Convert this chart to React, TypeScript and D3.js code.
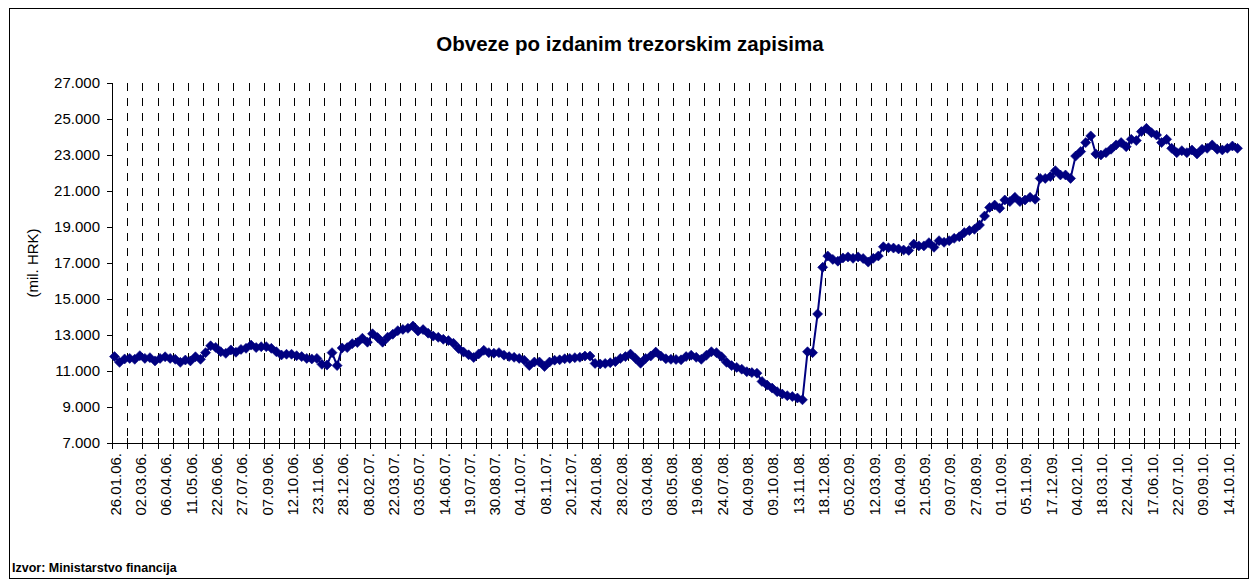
import React from "react";
import * as d3 from "d3";

const title = "Obveze po izdanim trezorskim zapisima";
const yAxisTitle = "(mil. HRK)";
const sourceNote = "Izvor: Ministarstvo financija";

const tickLabels = [
  "26.01.06.", "02.03.06.", "06.04.06.", "11.05.06.", "22.06.06.", "27.07.06.", "07.09.06.", "12.10.06.", "23.11.06.", "28.12.06.",
  "08.02.07.", "22.03.07.", "03.05.07.", "14.06.07.", "19.07.07.", "30.08.07.", "04.10.07.", "08.11.07.", "20.12.07.", "24.01.08.",
  "28.02.08.", "03.04.08.", "08.05.08.", "19.06.08.", "24.07.08.", "04.09.08.", "09.10.08.", "13.11.08.", "18.12.08.", "05.02.09.",
  "12.03.09.", "16.04.09.", "21.05.09.", "09.07.09.", "27.08.09.", "01.10.09.", "05.11.09.", "17.12.09.", "04.02.10.", "18.03.10.",
  "22.04.10.", "17.06.10.", "22.07.10.", "09.09.10.", "14.10.10.",
];

const values = [
  11800, 11480, 11670, 11700, 11650, 11850, 11700, 11740, 11560, 11700,
  11790, 11700, 11650, 11480, 11610, 11560, 11790, 11650, 12020, 12400,
  12310, 12070, 11980, 12170, 12040, 12200, 12260, 12440, 12300, 12350,
  12350, 12260, 12070, 11890, 11930, 11930, 11850, 11800, 11700, 11670,
  11700, 11370, 11330, 12020, 11300, 12280, 12300, 12520, 12580, 12820,
  12600, 13070, 12860, 12600, 12880, 13040, 13240, 13310, 13370, 13500,
  13220, 13300, 13100, 12940, 12870, 12760, 12690, 12540, 12250, 12050,
  11900, 11750, 11950, 12150, 12020, 11990, 12020, 11880, 11800, 11760,
  11700, 11600, 11300, 11500, 11500, 11250, 11500, 11600, 11620, 11680,
  11700, 11740, 11760, 11830, 11830, 11420, 11390, 11420, 11460, 11520,
  11700, 11800, 11940, 11700, 11430, 11700, 11830, 12050, 11830, 11680,
  11650, 11640, 11620, 11800, 11880, 11760, 11650, 11870, 12070, 12020,
  11790, 11480, 11300, 11200, 11100, 10960, 10910, 10880, 10420, 10220,
  10050, 9850, 9720, 9630, 9580, 9500, 9400, 12070, 12020, 14170,
  16760, 17390, 17200, 17100, 17280, 17340, 17260, 17340, 17250, 17050,
  17260, 17390, 17900, 17850, 17830, 17780, 17720, 17700, 18050, 17950,
  17950, 18130, 17870, 18240, 18150, 18240, 18370, 18460, 18690, 18800,
  18870, 19110, 19610, 20090, 20220, 20040, 20500, 20410, 20650, 20410,
  20500, 20650, 20540, 21700, 21700, 21800, 22130, 21890, 21890, 21700,
  22940, 23190, 23690, 24060, 23060, 23000, 23130, 23320, 23560, 23690,
  23460, 23870, 23800, 24300, 24480, 24240, 24110, 23690, 23870, 23370,
  23130, 23240, 23130, 23280, 23060, 23320, 23370, 23560, 23320, 23280,
  23370, 23500, 23370,
];

const yTicks = [7000, 9000, 11000, 13000, 15000, 17000, 19000, 21000, 23000, 25000, 27000];

const categories = values.map((_, i) => i);
const labelEvery = 5;
const tickEvery = 3;

const W = 1257;
const H = 585;
const plot = { left: 112, right: 1240, top: 83, bottom: 443 };
const NAVY = "#000080";
const FONT = "'Liberation Sans', Arial, sans-serif";

export default function App() {
  const x = d3.scaleBand<number>().domain(categories).range([plot.left, plot.right]).padding(0);
  const y = d3.scaleLinear().domain([7000, 27000]).range([plot.bottom, plot.top]);
  const bw = x.bandwidth();
  const cx = (i: number) => (x(i) as number) + bw / 2;

  const locale = d3.formatLocale({ decimal: ",", thousands: ".", grouping: [3], currency: ["", ""] });
  const fmt = locale.format(",.0f");

  const line = d3
    .line<number>()
    .x((_, i) => cx(i))
    .y((d) => y(d));

  const boundaries = d3.range(0, categories.length + 1, tickEvery).map((i) =>
    i < categories.length ? (x(i) as number) : plot.right
  );

  const r = 5;
  const diamond = (px: number, py: number) =>
    `M${px},${py - r}L${px + r},${py}L${px},${py + r}L${px - r},${py}Z`;

  return (
    <svg
      width={W}
      height={H}
      style={{ position: "absolute", left: 0, top: 0, background: "#fff" }}
      fontFamily={FONT}
    >
      <rect x={9.5} y={8.5} width={1239} height={570} fill="#fff" stroke="#000" strokeWidth={1} />
      <text x={630} y={51} textAnchor="middle" fontSize={20.5} fontWeight="bold" fill="#000">
        {title}
      </text>

      {/* vertical dashed gridlines */}
      {boundaries.slice(1).map((bx, k) => (
        <line
          key={"g" + k}
          x1={Math.round(bx) + 0.5}
          x2={Math.round(bx) + 0.5}
          y1={plot.top}
          y2={plot.bottom}
          stroke="#000"
          strokeWidth={1}
          strokeDasharray="8,7"
        />
      ))}

      {/* y axis */}
      <line x1={plot.left + 0.5} x2={plot.left + 0.5} y1={plot.top} y2={plot.bottom} stroke="#000" />
      {yTicks.map((t) => (
        <g key={"y" + t}>
          <line x1={plot.left - 5} x2={plot.left} y1={Math.round(y(t)) + 0.5} y2={Math.round(y(t)) + 0.5} stroke="#000" />
          <text x={plot.left - 12} y={y(t)} dy="0.35em" textAnchor="end" fontSize={15} fill="#000">
            {fmt(t)}
          </text>
        </g>
      ))}
      <text
        transform={`translate(33,${(plot.top + plot.bottom) / 2}) rotate(-90)`}
        textAnchor="middle"
        dy="0.35em"
        fontSize={15}
        fill="#000"
      >
        {yAxisTitle}
      </text>

      {/* x axis */}
      <line x1={plot.left} x2={plot.right} y1={plot.bottom + 0.5} y2={plot.bottom + 0.5} stroke="#000" />
      {boundaries.map((bx, k) => (
        <line
          key={"t" + k}
          x1={Math.round(bx) + 0.5}
          x2={Math.round(bx) + 0.5}
          y1={plot.bottom - 5}
          y2={plot.bottom + 6}
          stroke="#000"
        />
      ))}
      {tickLabels.map((lab, k) => {
        const i = k * labelEvery;
        return (
          <text
            key={"xl" + k}
            transform={`translate(${cx(i) + 1},${plot.bottom + 10}) rotate(-90)`}
            textAnchor="end"
            dy="0.35em"
            fontSize={15}
            fill="#000"
          >
            {lab}
          </text>
        );
      })}

      {/* series */}
      <path d={line(values) || ""} fill="none" stroke={NAVY} strokeWidth={2} />
      {values.map((v, i) => (
        <path key={"m" + i} d={diamond(cx(i), y(v))} fill={NAVY} stroke={NAVY} strokeWidth={0.6} />
      ))}

      <text x={12} y={572} fontSize={12.5} fontWeight="bold" fill="#000">
        {sourceNote}
      </text>
    </svg>
  );
}
